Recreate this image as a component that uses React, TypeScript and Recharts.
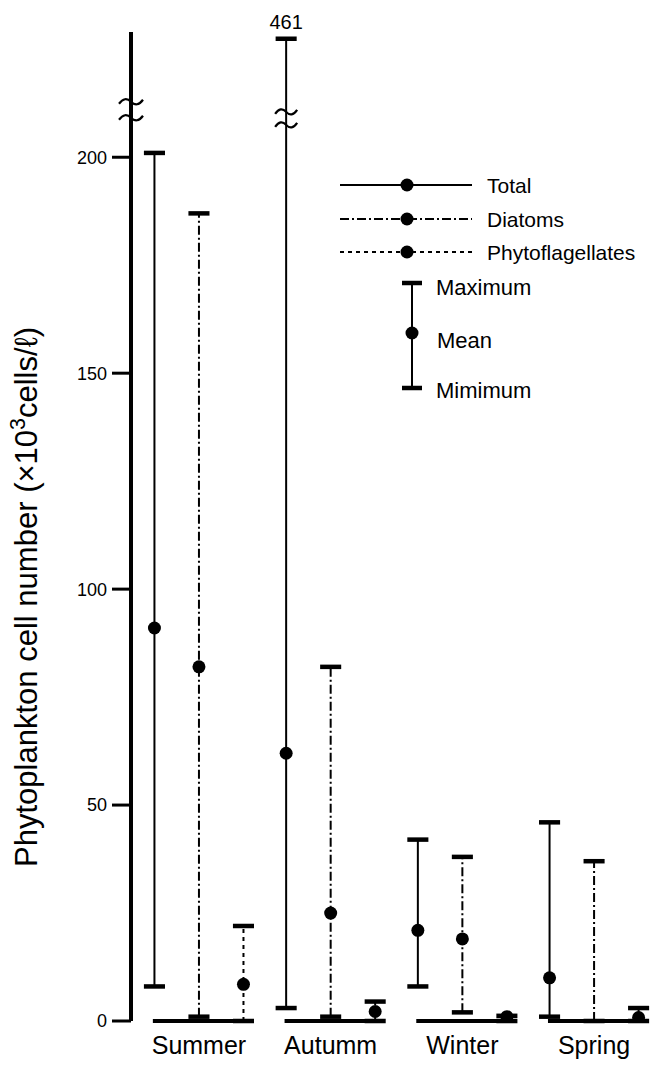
import React from 'react';
import { ComposedChart, XAxis, YAxis, Scatter, ReferenceLine, ReferenceDot, Legend } from 'recharts';

const seasons = ['Summer', 'Autumm', 'Winter', 'Spring'];
const yTicks = [0, 50, 100, 150, 200];

// x10^3 cells per litre
const totalMax = [201, 461, 42, 46];
const totalMean = [91, 62, 21, 10];
const totalMin = [8, 3, 8, 1];

const diatomMax = [187, 82, 38, 37];
const diatomMean: (number | null)[] = [82, 25, 19, null];
const diatomMin = [1, 1, 2, 0];

const phytoMax = [22, 4.5, 1.2, 3];
const phytoMean = [8.5, 2.2, 1, 0.8];
const phytoMin = [0, 0, 0, 0];

const FONT = '"Liberation Sans", Arial, Helvetica, sans-serif';

// broken axis: everything above BREAK_AT is squeezed into the strip above the squiggle
const BREAK_AT = 212;
const squeeze = (v: number) => (v <= BREAK_AT ? v : BREAK_AT + (v - BREAK_AT) * 0.062);

const SPREAD = 0.338;
const CAP = 0.08;
const BASE_HALF = 0.35;

const DASH_DIATOM = '9 3 2 3';
const DASH_PHYTO = '4 4';

const series = [
  { name: 'Total', max: totalMax, mean: totalMean, min: totalMin, pos: -1, dash: undefined as string | undefined },
  { name: 'Diatoms', max: diatomMax, mean: diatomMean, min: diatomMin, pos: 0, dash: DASH_DIATOM },
  { name: 'Phytoflagellates', max: phytoMax, mean: phytoMean, min: phytoMin, pos: 1, dash: DASH_PHYTO },
];

const Squiggle = (props: any) => {
  const { cx, cy, gap = 16, half = 12 } = props;
  const wave = (y: number) =>
    `M${cx - half},${y + 2} Q${cx - half / 2},${y - 6} ${cx},${y} T${cx + half},${y - 2}`;
  return (
    <g fill="none" stroke="#000" strokeWidth={2.2}>
      <path d={wave(cy - gap / 2)} />
      <path d={wave(cy + gap / 2)} />
    </g>
  );
};

const MaxLabel = (props: any) => {
  const { cx, cy } = props;
  return (
    <text x={cx} y={cy - 10} textAnchor="middle" fontSize={20} fontFamily={FONT} fill="#000">
      461
    </text>
  );
};

const LegendBox = () => {
  const rows = [
    { label: 'Total', dash: undefined as string | undefined, y: 20 },
    { label: 'Diatoms', dash: DASH_DIATOM, y: 54 },
    { label: 'Phytoflagellates', dash: DASH_PHYTO, y: 87 },
  ];
  return (
    <svg width={324} height={240} style={{ overflow: 'visible' }}>
      {rows.map((r) => (
        <g key={r.label}>
          <line x1={10} x2={142} y1={r.y} y2={r.y} stroke="#000" strokeWidth={2} strokeDasharray={r.dash} />
          <circle cx={77} cy={r.y} r={6.5} fill="#000" />
          <text x={157} y={r.y + 8} fontSize={21} fontFamily={FONT} fill="#000">
            {r.label}
          </text>
        </g>
      ))}
      <line x1={82} x2={82} y1={118} y2={223} stroke="#000" strokeWidth={2} />
      <line x1={72} x2={92} y1={118} y2={118} stroke="#000" strokeWidth={4.5} />
      <line x1={72} x2={92} y1={223} y2={223} stroke="#000" strokeWidth={4.5} />
      <circle cx={82} cy={168} r={6.5} fill="#000" />
      <text x={106} y={130} fontSize={22} fontFamily={FONT} fill="#000">Maximum</text>
      <text x={107} y={183} fontSize={22} fontFamily={FONT} fill="#000">Mean</text>
      <text x={106} y={233} fontSize={22} fontFamily={FONT} fill="#000">Mimimum</text>
    </svg>
  );
};

const YTitle = () => (
  <text
    x={37}
    y={597}
    transform="rotate(-90, 37, 597)"
    textAnchor="middle"
    fontSize={32}
    fontFamily={FONT}
    fill="#000"
    textLength={540}
    lengthAdjust="spacingAndGlyphs"
  >
    Phytoplankton cell number (×10
    <tspan dy={-12} fontSize={22}>3</tspan>
    <tspan dy={12}>cells/ℓ)</tspan>
  </text>
);

export default function App() {
  const ranges: React.ReactNode[] = [];
  seasons.forEach((s, i) => {
    series.forEach((sr) => {
      const x = i + sr.pos * SPREAD;
      const hi = squeeze(sr.max[i]);
      const lo = squeeze(sr.min[i]);
      ranges.push(
        <ReferenceLine
          key={`${s}-${sr.name}-v`}
          segment={[{ x, y: lo }, { x, y: hi }]}
          stroke="#000"
          strokeWidth={2}
          strokeDasharray={sr.dash}
          ifOverflow="visible"
        />,
        <ReferenceLine
          key={`${s}-${sr.name}-hi`}
          segment={[{ x: x - CAP, y: hi }, { x: x + CAP, y: hi }]}
          stroke="#000"
          strokeWidth={4.5}
          ifOverflow="visible"
        />,
        <ReferenceLine
          key={`${s}-${sr.name}-lo`}
          segment={[{ x: x - CAP, y: lo }, { x: x + CAP, y: lo }]}
          stroke="#000"
          strokeWidth={4.5}
          ifOverflow="visible"
        />
      );
    });
    ranges.push(
      <ReferenceLine
        key={`${s}-base`}
        segment={[{ x: i - BASE_HALF, y: 0 }, { x: i + BASE_HALF, y: 0 }]}
        stroke="#000"
        strokeWidth={4}
        ifOverflow="visible"
      />
    );
  });

  return (
    <div style={{ position: 'absolute', left: 0, top: 0, width: 654, height: 1066, background: '#fff' }}>
      <ComposedChart width={654} height={1066} margin={{ top: 32, right: 0, bottom: 0, left: 0 }}>
        <XAxis
          type="number"
          dataKey="x"
          domain={[-0.516, 3.455]}
          allowDataOverflow
          ticks={[0, 1, 2, 3]}
          interval={0}
          tickFormatter={(v: number) => seasons[v]}
          axisLine={false}
          tickLine={false}
          tickSize={0}
          tickMargin={15}
          height={45}
          tick={{ fontSize: 25, fill: '#000', fontFamily: FONT }}
        />
        <YAxis
          type="number"
          domain={[0, 229]}
          allowDataOverflow
          ticks={yTicks}
          interval={0}
          width={131}
          axisLine={{ stroke: '#000', strokeWidth: 4 }}
          tickLine={{ stroke: '#000', strokeWidth: 3 }}
          tickSize={19}
          tickMargin={5}
          tick={{ fontSize: 18, fill: '#000', fontFamily: FONT }}
          label={{ content: () => <YTitle /> }}
        />
        <Legend
          layout="horizontal"
          verticalAlign="middle"
          align="center"
          wrapperStyle={{ position: 'absolute', left: 330, top: 165, width: 324, height: 240 }}
          content={() => <LegendBox />}
        />
        {ranges}
        {series.map((sr) => (
          <Scatter
            key={sr.name}
            name={sr.name}
            data={seasons
              .map((s, i) => ({ x: i + sr.pos * SPREAD, y: sr.mean[i] == null ? null : squeeze(sr.mean[i] as number) }))
              .filter((d) => d.y != null)}
            dataKey="y"
            fill="#000"
            isAnimationActive={false}
            shape={(p: any) => <circle cx={p.cx} cy={p.cy} r={6.5} fill="#000" />}
          />
        ))}
        <ReferenceDot x={-0.516} y={211} r={0} ifOverflow="visible" shape={(p: any) => <Squiggle {...p} gap={16} />} />
        <ReferenceDot x={1 - SPREAD} y={209} r={0} ifOverflow="visible" shape={(p: any) => <Squiggle {...p} gap={13} half={11} />} />
        <ReferenceDot x={1 - SPREAD} y={squeeze(totalMax[1])} r={0} ifOverflow="visible" shape={(p: any) => <MaxLabel {...p} />} />
      </ComposedChart>
    </div>
  );
}
